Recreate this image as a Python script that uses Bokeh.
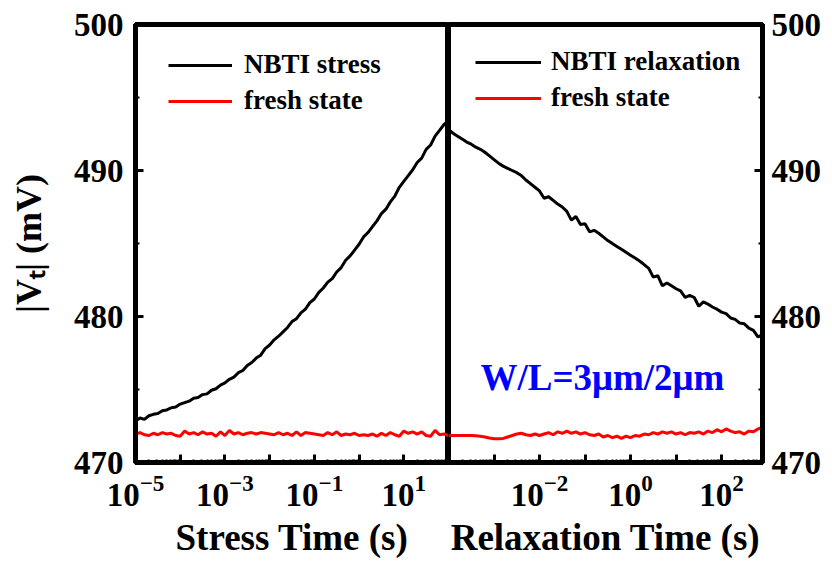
import math
from bokeh.plotting import figure
from bokeh.models import Range1d, FixedTicker, Legend, LegendItem, Label
from bokeh.layouts import row
from bokeh.embed import file_html
from bokeh.resources import INLINE

# ---------------- data ----------------
stress_exp = [round(-5.0 + 0.1 * i, 1) for i in range(71)]          # log10(stress time / s)
stress_vt = [472.85, 473.05, 472.95, 473.20, 473.30, 473.35, 473.55, 473.60, 473.75, 473.80,
             474.00, 474.10, 474.20, 474.40, 474.45, 474.65, 474.70, 474.95, 475.05, 475.30,
             475.45, 475.70, 475.85, 476.15, 476.30, 476.65, 476.85, 477.15, 477.35, 477.80,
             478.05, 478.40, 478.65, 478.95, 479.25, 479.65, 479.85, 480.25, 480.50, 480.95,
             481.20, 481.65, 481.95, 482.35, 482.60, 483.05, 483.35, 483.85, 484.15, 484.55,
             484.95, 485.45, 485.75, 486.15, 486.55, 487.05, 487.35, 487.85, 488.25, 488.85,
             489.25, 489.65, 490.05, 490.55, 490.85, 491.45, 491.75, 492.35, 492.75, 493.15,
             493.40]
stress_fresh = [471.95, 472.05, 471.90, 471.85, 472.00, 471.90, 472.05, 471.95, 472.00, 471.85,
                471.80, 472.15, 471.95, 472.05, 471.90, 472.10, 471.95, 472.00, 471.80, 472.10,
                471.85, 472.20, 471.95, 472.05, 471.90, 472.00, 472.05, 471.95, 472.05, 472.00,
                471.95, 471.90, 472.05, 471.90, 472.00, 471.85, 472.10, 471.85, 472.05, 472.00,
                471.95, 471.90, 471.85, 472.05, 471.90, 472.10, 471.85, 471.95, 471.90, 472.00,
                471.85, 471.90, 471.85, 471.95, 471.80, 472.00, 471.85, 472.05, 471.90, 471.80,
                472.15, 472.00, 472.10, 471.95, 472.10, 471.85, 471.80, 472.20, 471.90, 471.95,
                471.85]

relax_exp = [round(-4.0 + 0.1 * i, 1) for i in range(70)]            # log10(relaxation time / s)
relax_vt = [492.80, 492.55, 492.35, 492.15, 491.95, 491.80, 491.60, 491.45, 491.25, 491.00,
            490.75, 490.50, 490.30, 490.15, 490.00, 489.85, 489.65, 489.35, 489.10, 488.85,
            488.60, 488.10, 488.20, 487.95, 487.70, 487.50, 487.20, 486.60, 486.85, 486.30,
            486.35, 485.80, 485.90, 485.70, 485.45, 485.20, 485.00, 484.80, 484.60, 484.40,
            484.20, 484.00, 483.80, 483.55, 483.30, 482.70, 482.80, 482.10, 482.30, 482.10,
            481.90, 481.75, 481.30, 481.45, 481.30, 480.70, 481.00, 480.85, 480.65, 480.50,
            480.30, 480.20, 479.90, 479.80, 479.55, 479.50, 479.20, 479.05, 478.60, 478.75]
relax_fresh = [471.85, 471.85, 471.85, 471.85, 471.85, 471.85, 471.83, 471.80, 471.75, 471.68,
               471.63, 471.62, 471.65, 471.75, 471.85, 471.95, 472.00, 471.90, 471.85, 471.95,
               471.85, 471.95, 472.05, 471.90, 472.10, 472.00, 472.15, 472.00, 472.10, 471.95,
               472.05, 471.90, 471.85, 471.95, 471.75, 471.85, 471.70, 471.80, 471.65, 471.80,
               471.70, 471.85, 471.80, 471.95, 471.90, 472.05, 471.95, 472.10, 472.00, 472.10,
               471.95, 472.05, 471.90, 472.05, 472.00, 472.10, 471.95, 472.15, 472.05, 472.25,
               472.10, 472.30, 472.15, 472.05, 472.10, 471.95, 472.15, 472.10, 472.30, 472.40]

stress_decades = [-5, -4, -3, -2, -1, 0, 1, 2]
stress_labeled = [-5, -3, -1, 1]
relax_decades = [-4, -3, -2, -1, 0, 1, 2]
relax_labeled = [-2, 0, 2]
relax_max_exp = 2.9
y_ticks = [470, 480, 490, 500]
y_minor = [475, 485, 495]

stress_t = [10 ** e for e in stress_exp]
relax_t = [10 ** e for e in relax_exp]

FONT = "Liberation Serif"


def make_fig(xmin, xmax, width, mleft, mright, yloc):
    p = figure(width=width, height=563, x_axis_type="log",
               x_range=Range1d(xmin, xmax), y_range=Range1d(470, 500),
               y_axis_location=yloc,
               output_backend="svg", toolbar_location=None,
               min_border_left=mleft, min_border_right=mright,
               min_border_top=24, min_border_bottom=101)
    p.xgrid.visible = False
    p.ygrid.visible = False
    p.background_fill_color = "white"
    p.border_fill_color = "white"
    p.outline_line_color = "black"
    p.outline_line_width = 5
    for ax in (p.xaxis[0], p.yaxis[0]):
        ax.axis_line_width = 5
        ax.axis_line_color = "black"
        ax.major_tick_in = 8
        ax.major_tick_out = 0
        ax.major_tick_line_width = 3
        ax.minor_tick_in = 3
        ax.minor_tick_out = 0
        ax.minor_tick_line_width = 2
        ax.major_label_text_font = FONT
        ax.major_label_text_font_style = "bold"
        ax.major_label_text_font_size = "33px"
        ax.major_label_text_color = "black"
        ax.axis_label_text_font = FONT
        ax.axis_label_text_font_style = "bold"
        ax.axis_label_text_font_size = "37px"
        ax.axis_label_text_color = "black"
    p.yaxis[0].ticker = FixedTicker(ticks=y_ticks, minor_ticks=y_minor)
    p.yaxis[0].minor_tick_in = 4
    return p


def log_ticker(decades):
    minors = []
    for d in decades:
        for k in range(2, 10):
            minors.append(k * 10.0 ** d)
    return FixedTicker(ticks=[10.0 ** d for d in decades], minor_ticks=minors)


def make_legend(labels, renderers, loc, gw, standoff):
    return Legend(items=[LegendItem(label=l, renderers=[r]) for l, r in zip(labels, renderers)],
                  location=loc, padding=0, margin=0, spacing=5,
                  glyph_width=gw, label_standoff=standoff,
                  label_text_font=FONT, label_text_font_style="bold",
                  label_text_font_size="27px", label_text_color="black",
                  border_line_alpha=0, background_fill_alpha=0)


# ---------------- left panel: stress ----------------
p1 = make_fig(10.0 ** -5, 10.0 ** 2, 448, 135, 0, "left")
p1.xaxis[0].ticker = log_ticker(stress_decades)
p1.xaxis[0].major_label_overrides = {10.0 ** d: "" for d in stress_decades if d not in stress_labeled}
p1.xaxis[0].axis_label = "Stress Time (s)"
p1.xaxis[0].major_label_standoff = 12
p1.xaxis[0].axis_label_standoff = 8
p1.yaxis[0].major_label_standoff = 12
p1.yaxis[0].axis_label = "|V\u209c| (mV)"
p1.yaxis[0].axis_label_text_font_size = "36px"
p1.yaxis[0].axis_label_standoff = 22

r1 = p1.line(stress_t, stress_vt, line_color="black", line_width=3)
r2 = p1.line(stress_t, stress_fresh, line_color="#ff0000", line_width=3)
p1.add_layout(make_legend(["NBTI stress", "fresh state"], [r1, r2], (33, 346), 64, 12), "center")

# ---------------- right panel: relaxation ----------------
p2 = make_fig(10.0 ** -4, 10.0 ** relax_max_exp, 384, 0, 70, "right")
p2.xaxis[0].ticker = log_ticker(relax_decades)
p2.xaxis[0].major_label_overrides = {10.0 ** d: "" for d in relax_decades if d not in relax_labeled}
p2.xaxis[0].axis_label = "Relaxation Time (s)"
p2.xaxis[0].major_label_standoff = 12
p2.xaxis[0].axis_label_standoff = 8
p2.yaxis[0].major_label_standoff = 9

r3 = p2.line(relax_t, relax_vt, line_color="black", line_width=3)
r4 = p2.line(relax_t, relax_fresh, line_color="#ff0000", line_width=3)
p2.add_layout(make_legend(["NBTI relaxation", "fresh state"], [r3, r4], (27, 349), 66, 10), "center")

p2.add_layout(Label(x=32, y=85, x_units="screen", y_units="screen",
                    text="W/L=3\u03bcm/2\u03bcm", text_font=FONT, text_font_style="bold",
                    text_font_size="37px", text_color="#0000ff",
                    text_align="left", text_baseline="alphabetic"))

layout = row(p1, p2)
open("out.html", "w").write(file_html(layout, INLINE))
